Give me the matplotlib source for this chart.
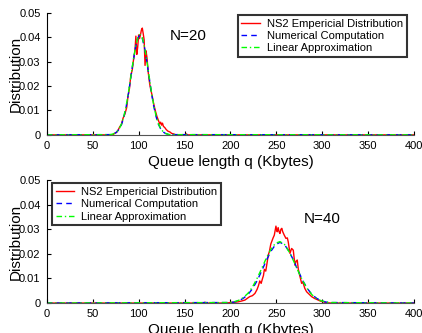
import matplotlib
matplotlib.use("Agg")
import matplotlib.pyplot as plt
from matplotlib.ticker import FuncFormatter

plt.rcParams['font.family'] = ['Liberation Sans', 'DejaVu Sans']

# ---- N=20 (top panel) ----
q20_ns2 = [0, 72, 74, 76, 78, 79.5, 81, 83, 85, 87, 88.5, 90, 91.5, 93, 94.5, 96, 97,
           98, 99, 100, 101, 102, 103, 104, 105, 106, 107, 108, 109, 110.5, 112, 113,
           114.5, 116, 117, 118.5, 120, 121.5, 123, 124, 125, 126, 127, 128.5, 130,
           132, 134, 136, 138, 140, 142, 151, 152, 153, 400]
d20_ns2 = [0, 0.0000, 0.0007, 0.0010, 0.0022, 0.0034, 0.0040, 0.0068, 0.0085, 0.0112,
           0.0160, 0.0190, 0.0245, 0.0265, 0.0310, 0.0345, 0.0405, 0.0330, 0.0360,
           0.0410, 0.0395, 0.0410, 0.0430, 0.0438, 0.0415, 0.0390, 0.0285, 0.0345,
           0.0320, 0.0255, 0.0210, 0.0190, 0.0165, 0.0135, 0.0118, 0.0095, 0.0075,
           0.0060, 0.0045, 0.0052, 0.0040, 0.0048, 0.0035, 0.0030, 0.0022, 0.0015,
           0.0012, 0.0006, 0.0004, 0.0001, 0, 0, 0.0004, 0, 0]

q20_num = [0, 69, 71.5, 74, 76.5, 79, 81.5, 84, 86.5, 89, 91.5, 94, 96.5, 99, 101.5,
           104, 106.5, 109, 111.5, 114, 116.5, 119, 121.5, 124, 126.5, 129, 131.5, 134, 400]
d20_num = [0, 0.0001, 0.0003, 0.0006, 0.0013, 0.0025, 0.0044, 0.0075, 0.0117, 0.0172,
           0.0235, 0.0300, 0.0357, 0.0396, 0.0410, 0.0396, 0.0357, 0.0300, 0.0235,
           0.0172, 0.0117, 0.0075, 0.0044, 0.0025, 0.0013, 0.0006, 0.0003, 0.0001, 0]

q20_lin = [0, 69, 71.5, 74, 76.5, 79, 81.5, 84, 86.5, 89, 91.5, 94, 96.5, 99, 101.5,
           104, 106.5, 109, 111.5, 114, 116.5, 119, 121.5, 124, 126.5, 129, 131.5, 134, 400]
d20_lin = [0, 0.0001, 0.0003, 0.0007, 0.0014, 0.0026, 0.0046, 0.0078, 0.0120, 0.0176,
           0.0238, 0.0302, 0.0358, 0.0397, 0.0412, 0.0398, 0.0360, 0.0303, 0.0238,
           0.0175, 0.0120, 0.0077, 0.0046, 0.0026, 0.0014, 0.0007, 0.0003, 0.0001, 0]

# ---- N=40 (bottom panel) ----
q40_ns2 = [0, 170, 172, 175, 195, 200, 204, 208.5, 212, 215.8, 218, 221, 224, 226.7,
           229, 230.5, 232, 233.5, 235, 236, 237, 238.5, 240, 241.2, 242.5, 244, 245,
           246.5, 247.8, 248.5, 249.6, 250.5, 251, 252, 253, 254, 255, 256, 257, 258.7,
           260.5, 262, 263, 264.9, 266, 266.7, 268.5, 270.3, 271.5, 272.8, 274, 275,
           277.6, 279, 281, 283, 286, 288.5, 292, 295.7, 298, 301, 305, 310, 400]
d40_ns2 = [0, 0, 0.0003, 0, 0, 0.0002, 0.0003, 0.0005, 0.0008, 0.0012, 0.0018, 0.0026,
           0.0030, 0.0039, 0.0055, 0.0070, 0.0090, 0.0080, 0.0100, 0.0112, 0.0137,
           0.0130, 0.0165, 0.0195, 0.0210, 0.0240, 0.0250, 0.0265, 0.0276, 0.0290,
           0.0313, 0.0295, 0.0290, 0.0307, 0.0290, 0.0283, 0.0300, 0.0304, 0.0290,
           0.0276, 0.0263, 0.0265, 0.0249, 0.0202, 0.0215, 0.0222, 0.0215, 0.0154,
           0.0170, 0.0175, 0.0137, 0.0120, 0.0080, 0.0085, 0.0060, 0.0046, 0.0035,
           0.0026, 0.0018, 0.0012, 0.0008, 0.0005, 0.0001, 0, 0]

q40_num = [0, 199, 204, 209, 214, 219, 224, 229, 234, 239, 244, 249, 254, 259, 264,
           269, 274, 279, 284, 289, 294, 299, 304, 309, 400]
d40_num = [0, 0.0002, 0.0004, 0.0009, 0.0019, 0.0034, 0.0058, 0.0090, 0.0130, 0.0172,
           0.0210, 0.0237, 0.0247, 0.0237, 0.0210, 0.0172, 0.0130, 0.0090, 0.0058,
           0.0034, 0.0019, 0.0009, 0.0004, 0.0002, 0]

q40_lin = [0, 199, 204, 209, 214, 219, 224, 229, 234, 239, 244, 249, 254, 259, 264,
           269, 274, 279, 284, 289, 294, 299, 304, 309, 400]
d40_lin = [0, 0.0002, 0.0005, 0.0011, 0.0022, 0.0039, 0.0065, 0.0100, 0.0140, 0.0182,
           0.0218, 0.0243, 0.0250, 0.0238, 0.0208, 0.0170, 0.0128, 0.0089, 0.0057,
           0.0033, 0.0018, 0.0009, 0.0004, 0.0002, 0]

labels = ['NS2 Empericial Distribution', 'Numerical Computation', 'Linear Approximation']
xticks = [0, 50, 100, 150, 200, 250, 300, 350, 400]
yticks = [0, 0.01, 0.02, 0.03, 0.04, 0.05]

fig = plt.figure(figsize=(4.22, 3.33), dpi=100)
ax1 = fig.add_axes([0.111, 0.595, 0.870, 0.366])
ax2 = fig.add_axes([0.111, 0.090, 0.870, 0.369])


def fmt(v, pos):
    return '0' if v == 0 else '%g' % v


panels = [
    (ax1, q20_ns2, d20_ns2, q20_num, d20_num, q20_lin, d20_lin, 'N=20', (134, 0.0406),
     'upper right', (0.981, 0.985)),
    (ax2, q40_ns2, d40_ns2, q40_num, d40_num, q40_lin, d40_lin, 'N=40', (280, 0.034),
     'upper left', (0.013, 0.975)),
]

for ax, qa, da, qb, db, qc, dc, title, tpos, lloc, lanchor in panels:
    ax.plot(qa, da, color='#ff0000', lw=1.0, label=labels[0])
    ax.plot(qb, db, color='#0000ff', lw=1.0, ls=(0, (4, 3)), label=labels[1])
    ax.plot(qc, dc, color='#00ff00', lw=1.0, ls=(0, (4, 2, 1, 2)), label=labels[2])
    ax.set_xlim(0, 400)
    ax.set_ylim(0, 0.05)
    ax.set_xticks(xticks)
    ax.set_yticks(yticks)
    ax.yaxis.set_major_formatter(FuncFormatter(fmt))
    ax.tick_params(direction='in', length=3, width=0.8, labelsize=8, pad=4.5)
    ax.spines['top'].set_visible(False)
    ax.spines['right'].set_visible(False)
    ax.spines['left'].set_linewidth(0.8)
    ax.spines['bottom'].set_linewidth(0.8)
    ax.spines['bottom'].set_color('#555555')
    ax.set_xlabel('Queue length q (Kbytes)', fontsize=11, labelpad=2.5)
    ax.set_ylabel('Distribution', fontsize=11)
    ax.yaxis.set_label_coords(-0.066, 0.5)
    ax.text(tpos[0], tpos[1], title, fontsize=11, va='center', ha='left')
    leg = ax.legend(loc=lloc, bbox_to_anchor=lanchor, fontsize=8, frameon=True,
                    fancybox=False, handlelength=1.7, handletextpad=0.6,
                    labelspacing=0.2, borderpad=0.35, borderaxespad=0)
    leg.get_frame().set_edgecolor('black')
    leg.get_frame().set_linewidth(1.5)

fig.savefig('out.png', dpi=100)
